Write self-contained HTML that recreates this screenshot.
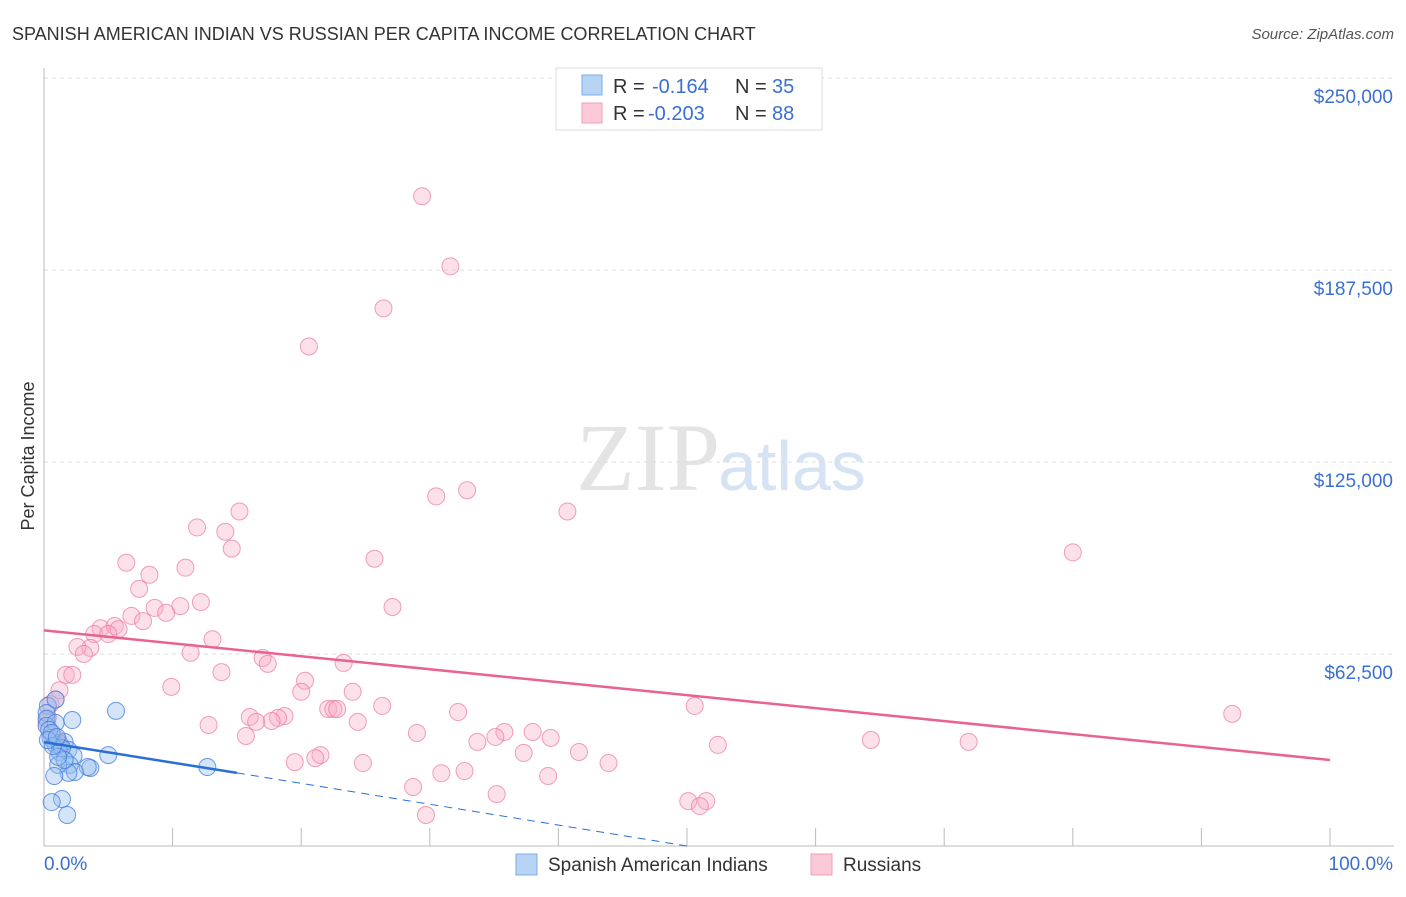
<!DOCTYPE html>
<html><head><meta charset="utf-8"><style>
body{margin:0;background:#fff;font-family:"Liberation Sans",sans-serif;}
svg text{font-family:"Liberation Sans",sans-serif;}
</style></head><body>
<svg id="chart" width="1406" height="892" xmlns="http://www.w3.org/2000/svg">
<text x="12" y="40" font-size="18" fill="#333">SPANISH AMERICAN INDIAN VS RUSSIAN PER CAPITA INCOME CORRELATION CHART</text>
<text x="1394" y="39" font-size="15" fill="#555" font-style="italic" text-anchor="end">Source: ZipAtlas.com</text>
<text x="720" y="490" font-size="96" fill="#e4e4e4" text-anchor="end" font-family="Liberation Serif" style="font-family:'Liberation Serif',serif">ZIP</text>
<text x="718" y="490" font-size="70" fill="#d6e3f4">atlas</text>
<text transform="translate(34,456) rotate(-90)" font-size="18" fill="#333" text-anchor="middle">Per Capita Income</text>
<g id="grid"></g>
<g id="marks"></g>
<g>
<rect x="556" y="68" width="266" height="62" fill="#fff" stroke="#ddd"/>
<rect x="582" y="75" width="20" height="20" fill="#b8d4f5" stroke="#7aaee8"/>
<text x="613" y="93" font-size="20" fill="#333">R = </text><text x="652" y="93" font-size="20" fill="#3a70d0">-0.164</text>
<text x="735" y="93" font-size="20" fill="#333">N = </text><text x="772" y="93" font-size="20" fill="#3a70d0">35</text>
<rect x="582" y="103" width="20" height="20" fill="#fbc9d8" stroke="#f0a0b8"/>
<text x="613" y="120" font-size="20" fill="#333">R = </text><text x="648" y="120" font-size="20" fill="#3a70d0">-0.203</text>
<text x="735" y="120" font-size="20" fill="#333">N = </text><text x="772" y="120" font-size="20" fill="#3a70d0">88</text>
</g>
<g>
<rect x="516" y="854" width="21" height="21" fill="#b8d4f5" stroke="#7aaee8"/>
<text x="548" y="871" font-size="19" fill="#333">Spanish American Indians</text>
<rect x="811" y="854" width="21" height="21" fill="#fbc9d8" stroke="#f0a0b8"/>
<text x="843" y="871" font-size="19" fill="#333">Russians</text>
</g>
<text x="44" y="870" font-size="19" fill="#3a70d0">0.0%</text>
<text x="1393" y="870" font-size="19" fill="#3a70d0" text-anchor="end">100.0%</text>
</svg>
<script>
const yTicks=[62500,125000,187500,250000];
const yTickLabels=["$62,500","$125,000","$187,500","$250,000"];
const xTicks=[0,10,20,30,40,50,60,70,80,90,100];
const pinkX=[29.4,31.6,26.4,20.6,30.5,32.9,40.7,80.0,15.2,11.9,14.1,14.6,6.4,8.2,11.0,25.7,7.4,27.1,12.2,10.6,8.6,9.5,6.8,7.7,4.4,5.5,5.8,3.9,5.0,13.1,3.6,2.6,3.1,11.4,17.0,17.4,23.3,1.7,2.2,13.8,9.9,20.3,20.0,24.0,1.2,0.9,26.3,50.6,92.4,32.2,22.1,22.5,22.8,16.0,18.7,18.2,17.7,16.5,24.4,12.8,15.7,29.0,35.8,38.0,35.1,33.7,39.4,52.4,64.3,71.9,37.3,41.6,21.5,21.1,19.5,24.8,43.9,30.9,32.7,39.2,28.7,35.2,50.1,51.5,51.0,29.7,0.3,0.6,1.1,1.2,0.5,0.2];
const pinkY=[211500,188700,175000,162600,113800,115800,108900,95600,108900,103700,102300,96800,92200,88300,90600,93500,83700,77800,79400,78100,77500,75900,74900,73200,70900,71600,70600,69000,69000,67300,64500,64800,62500,62900,61200,59300,59600,55700,55700,56600,51800,53800,50200,50200,50700,47700,45600,45600,43000,43600,44600,44600,44600,42000,42300,41700,40700,40400,40400,39400,35800,36800,37100,37100,35500,33900,35200,32900,34500,33900,30300,30600,29600,28600,27300,27000,27000,23700,24400,22800,19200,16900,14600,14600,13000,10100,41700,36100,34500,32900,46200,40400];
const blueX=[5.6,2.2,0.3,0.2,0.2,0.2,0.9,0.5,0.9,1.2,1.6,1.9,1.2,2.3,5.0,12.7,3.6,3.4,2.0,2.4,1.9,1.1,0.8,1.4,0.6,1.8,0.9,0.4,0.6,1.4,1.6,1.1,0.7,0.3,1.0];
const blueY=[44000,41000,45600,43300,41400,39100,40100,35200,33000,33500,33900,31300,30600,29300,29600,25700,25400,25700,26400,24100,23800,26400,22800,15300,14300,10100,47700,37800,36800,31900,28000,29000,32500,34500,35500];
const trendBlue=[[0,33800],[15,23800],[50,0]];
const trendPink=[[0,70200],[100,28000]];
const X0=44,X1=1330,Y0=846,Y1=78;
const xs=v=>X0+(X1-X0)*v/100, ys=v=>Y0-(Y0-Y1)*v/250000;
const NS="http://www.w3.org/2000/svg";
function mk(tag,attrs,parent){const e=document.createElementNS(NS,tag);for(const k in attrs)e.setAttribute(k,attrs[k]);parent.appendChild(e);return e;}
const grid=document.getElementById('grid'),marks=document.getElementById('marks');
yTicks.forEach((t,i)=>{
 const l=mk('line',{x1:X0,x2:1394,y1:ys(t),y2:ys(t),stroke:'#ddd','stroke-dasharray':'4,4'},grid);
 
 
 const tx=mk('text',{x:1393,y:ys(t)+25,'font-size':19,fill:'#3a70d0','text-anchor':'end'},grid);
 tx.textContent=yTickLabels[i];
 
 
});
const ax=mk('line',{x1:X0,x2:X0,y1:68,y2:Y0,stroke:'#bbb'},grid);


const bx=mk('line',{x1:X0,x2:1394,y1:Y0,y2:Y0,stroke:'#bbb'},grid);


xTicks.forEach(t=>{const l=mk('line',{x1:xs(t),x2:xs(t),y1:828,y2:Y0,stroke:'#bbb'},grid);
 
 });
pinkX.forEach((v,i)=>{const c=mk('circle',{cx:xs(v),cy:ys(pinkY[i]),r:8.5,fill:'rgba(248,170,195,0.35)',stroke:'rgba(235,120,155,0.7)','stroke-width':1},marks);
 
 });
blueX.forEach((v,i)=>{const c=mk('circle',{cx:xs(v),cy:ys(blueY[i]),r:8.5,fill:'rgba(150,190,240,0.4)',stroke:'rgba(60,120,220,0.75)','stroke-width':1},marks);
 
 });
const pl=mk('line',{x1:xs(trendPink[0][0]),y1:ys(trendPink[0][1]),x2:xs(trendPink[1][0]),y2:ys(trendPink[1][1]),stroke:'#e8638f','stroke-width':2.5},marks);


const bl=mk('line',{x1:xs(trendBlue[0][0]),y1:ys(trendBlue[0][1]),x2:xs(trendBlue[1][0]),y2:ys(trendBlue[1][1]),stroke:'#2a6fd6','stroke-width':2.5},marks);


const bd=mk('line',{x1:xs(trendBlue[1][0]),y1:ys(trendBlue[1][1]),x2:xs(trendBlue[2][0]),y2:ys(trendBlue[2][1]),stroke:'#2a6fd6','stroke-width':1,'stroke-dasharray':'8,6'},marks);


</script>
</body></html>
